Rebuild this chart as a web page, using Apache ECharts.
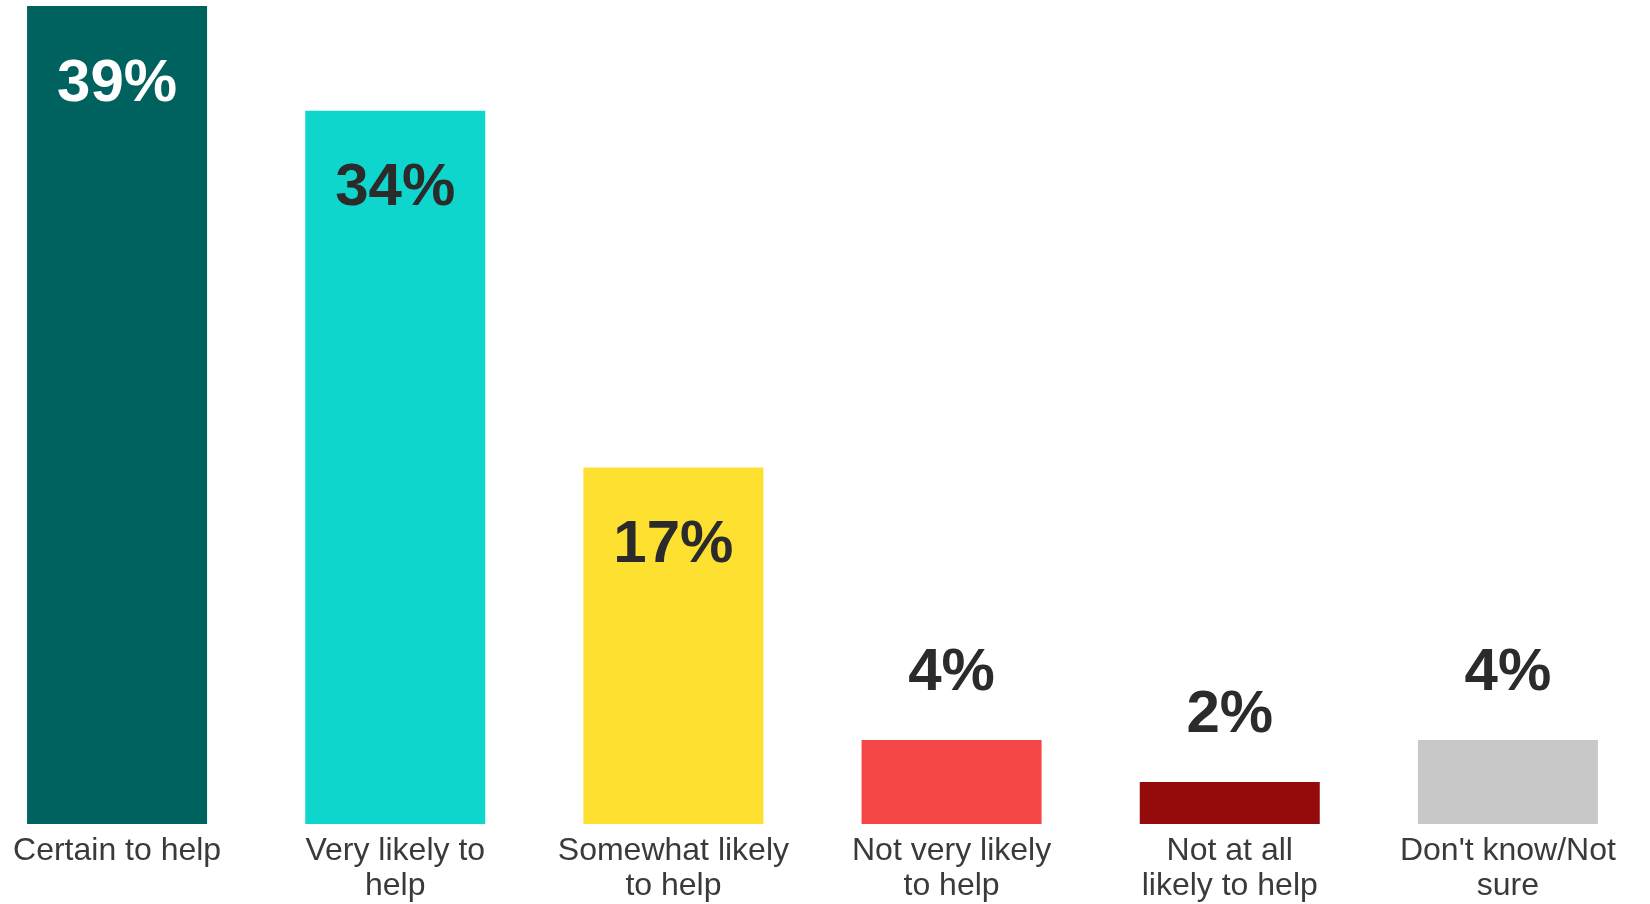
<!DOCTYPE html>
<html>
<head>
<meta charset="utf-8">
<script src="https://cdn.jsdelivr.net/npm/echarts@6/dist/echarts.min.js"></script>
<style>
html, body { margin: 0; padding: 0; background: #fff; overflow: hidden; }
/* plot area starts a little left of the window edge in the original */
#chart { width: 1672px; height: 904px; margin-left: -22px; }
</style>
</head>
<body>
<div id="chart"></div>
<script>
// answer categories (line breaks as in the original labels)
var categories = [
	'Certain to help',
	'Very likely to\nhelp',
	'Somewhat likely\nto help',
	'Not very likely\nto help',
	'Not at all\nlikely to help',
	"Don't know/Not\nsure"
];
var values = [39, 34, 17, 4, 2, 4];
var barColors = ['#00625e', '#0fd6cc', '#fde030', '#f54745', '#950a0a', '#c8c8c8'];

var chart = echarts.init(document.getElementById('chart'));

var option = {
	backgroundColor: '#ffffff',
	animation: false,
	grid: {
		left: 0,
		right: 3,
		top: 6,
		bottom: 79
	},
	xAxis: {
		type: 'category',
		data: categories,
		axisLine: { show: false },
		axisTick: { show: false },
		axisLabel: {
			interval: 0,
			margin: 10,
			color: '#3a3a3a',
			fontFamily: 'Liberation Sans, Arial, sans-serif',
			fontSize: 32,
			lineHeight: 35
		}
	},
	yAxis: {
		type: 'value',
		min: 0,
		max: 39,
		show: false,
		splitLine: { show: false }
	},
	series: [{
		type: 'bar',
		barWidth: 180,
		data: values.map(function (v, i) {
			var inside = v >= 10;
			return {
				value: v,
				itemStyle: { color: barColors[i] },
				label: {
					show: true,
					position: inside ? 'insideTop' : 'top',
					distance: inside ? 48 : 37,
					formatter: '{c}%',
					color: i === 0 ? '#ffffff' : '#2b2b2b',
					fontFamily: 'Liberation Sans, Arial, sans-serif',
					fontWeight: 'bold',
					fontSize: 60,
					lineHeight: 60
				}
			};
		})
	}]
};

chart.setOption(option);
</script>
</body>
</html>
